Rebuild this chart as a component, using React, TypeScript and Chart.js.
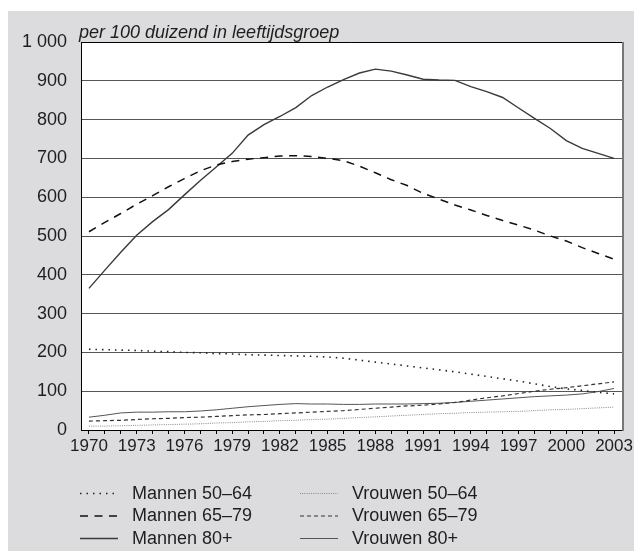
import React, { useEffect, useRef } from 'react';
import { Chart, registerables } from 'chart.js';

Chart.register(...registerables);

const years = [
  '1970', '1971', '1972', '1973', '1974', '1975', '1976', '1977', '1978', '1979',
  '1980', '1981', '1982', '1983', '1984', '1985', '1986', '1987', '1988', '1989',
  '1990', '1991', '1992', '1993', '1994', '1995', '1996', '1997', '1998', '1999',
  '2000', '2001', '2002', '2003',
];

const mannen5064 = [208, 207, 206, 205, 203, 202, 200, 199, 197, 196, 194, 193, 192, 191, 190, 188, 185, 180, 175, 170, 165, 160, 155, 150, 144, 138, 132, 126, 119, 112, 106, 102, 97, 93];
const mannen6579 = [511, 535, 558, 582, 604, 627, 648, 668, 683, 692, 698, 702, 706, 707, 705, 700, 694, 680, 663, 645, 630, 610, 595, 580, 567, 553, 540, 528, 515, 500, 487, 470, 455, 440];
const mannen80 = [365, 412, 458, 502, 537, 568, 606, 643, 678, 713, 760, 787, 808, 831, 862, 884, 903, 920, 930, 925, 915, 904, 902, 901, 885, 872, 857, 830, 803, 777, 746, 726, 713, 700];
const vrouwen5064 = [10, 10, 11, 12, 13, 14, 15, 16, 18, 19, 21, 22, 24, 25, 27, 28, 30, 32, 34, 36, 38, 40, 42, 43, 45, 46, 47, 48, 50, 52, 53, 55, 57, 59];
const vrouwen6579 = [23, 24, 25, 27, 29, 30, 32, 33, 35, 37, 39, 40, 42, 44, 46, 48, 50, 53, 56, 59, 62, 64, 67, 71, 77, 83, 88, 94, 100, 105, 109, 114, 119, 124];
const vrouwen80 = [33, 38, 44, 46, 46, 47, 47, 49, 52, 56, 60, 63, 66, 68, 67, 67, 66, 66, 67, 67, 67, 68, 69, 71, 74, 77, 80, 83, 86, 88, 90, 93, 99, 107];

const seriesNames = ['Mannen 50–64', 'Mannen 65–79', 'Mannen 80+', 'Vrouwen 50–64', 'Vrouwen 65–79', 'Vrouwen 80+'];
const yTicks = [0, 100, 200, 300, 400, 500, 600, 700, 800, 900, 1000];
const titleText = 'per 100 duizend in leeftijdsgroep';

const FONT = '"Liberation Sans", Arial, Helvetica, sans-serif';
const TEXT = '#1e1e1e';

const formatNum = (v: number) => String(v).replace(/\B(?=(\d{3})+(?!\d))/g, ' ');

const overlay = {
  id: 'overlay',
  beforeDraw(chart: any) {
    const { ctx, chartArea: a } = chart;
    ctx.save();
    ctx.fillStyle = '#ffffff';
    ctx.fillRect(a.left, a.top, a.right - a.left, a.bottom - a.top);
    ctx.restore();
  },
  afterDraw(chart: any) {
    const { ctx, chartArea: a } = chart;
    ctx.save();
    ctx.strokeStyle = '#000';
    ctx.lineWidth = 1;
    ctx.beginPath();
    ctx.moveTo(a.left, a.top + 0.5);
    ctx.lineTo(a.right, a.top + 0.5);
    ctx.stroke();
    ctx.fillStyle = '#777';
    ctx.fillRect(a.right, a.top, 2, a.bottom - a.top + 1);

    ctx.font = `italic 18px ${FONT}`;
    ctx.fillStyle = TEXT;
    ctx.textAlign = 'left';
    ctx.textBaseline = 'alphabetic';
    ctx.fillText(titleText, 71, 27);

    const cols = [{ x0: 72, x1: 110, tx: 124 }, { x0: 292, x1: 330, tx: 344 }];
    const rows = [482, 504.5, 527];
    ctx.font = `18px ${FONT}`;
    ctx.textBaseline = 'middle';
    chart.data.datasets.forEach((ds: any, i: number) => {
      const c = cols[Math.floor(i / 3)];
      const y = rows[i % 3];
      ctx.save();
      ctx.strokeStyle = ds.borderColor;
      ctx.lineWidth = ds.borderWidth;
      ctx.setLineDash(ds.borderDash || []);
      ctx.lineCap = 'butt';
      ctx.beginPath();
      ctx.moveTo(c.x0, y + 0.5);
      ctx.lineTo(c.x1, y + 0.5);
      ctx.stroke();
      ctx.restore();
      ctx.fillStyle = TEXT;
      ctx.fillText(ds.label, c.tx, y + 1);
    });
    ctx.restore();
  },
};

export default function App() {
  const ref = useRef<HTMLCanvasElement | null>(null);

  useEffect(() => {
    document.documentElement.style.overflow = 'hidden';
    document.body.style.overflow = 'hidden';
    const canvas = ref.current;
    if (!canvas) return;
    const styles = [
      { color: '#222', width: 1.6, dash: [1.5, 5] },
      { color: '#111', width: 1.5, dash: [8, 6.5] },
      { color: '#3a3a3a', width: 1.4, dash: [] as number[] },
      { color: '#888', width: 1, dash: [1, 1.2] },
      { color: '#333', width: 1.2, dash: [4, 3] },
      { color: '#555', width: 1, dash: [] as number[] },
    ];
    const values = [mannen5064, mannen6579, mannen80, vrouwen5064, vrouwen6579, vrouwen80];
    const chart = new Chart(canvas, {
      type: 'line',
      data: {
        labels: years,
        datasets: values.map((d, i) => ({
          label: seriesNames[i],
          data: d,
          borderColor: styles[i].color,
          borderWidth: styles[i].width,
          borderDash: styles[i].dash,
          pointRadius: 0,
          tension: 0,
          fill: false,
        })),
      },
      options: {
        animation: false,
        responsive: false,
        maintainAspectRatio: false,
        layout: { padding: { left: 0, top: 31, right: 12, bottom: 81 } },
        plugins: {
          legend: { display: false },
          tooltip: { enabled: false },
        },
        scales: {
          x: {
            type: 'category',
            offset: true,
            grid: { display: true, drawOnChartArea: false, drawTicks: true, tickLength: 4, color: '#000', offset: false },
            border: { display: true, color: '#000', width: 1 },
            ticks: {
              autoSkip: false,
              maxRotation: 0,
              minRotation: 0,
              padding: 2,
              color: TEXT,
              font: { family: FONT, size: 17 },
              callback: (_v: any, i: number) => (i % 3 === 0 ? years[i] : ''),
            },
            afterFit: (s: any) => {
              s.height = 40;
              s.paddingLeft = 0;
              s.paddingRight = 0;
            },
          },
          y: {
            min: 0,
            max: 1000,
            afterBuildTicks: (s: any) => {
              s.ticks = yTicks.map((v) => ({ value: v }));
            },
            ticks: {
              padding: 14,
              color: TEXT,
              font: { family: FONT, size: 18 },
              callback: (v: any) => formatNum(Number(v)),
            },
            grid: { color: '#555', lineWidth: 1, drawTicks: false },
            border: { display: true, color: '#000', width: 1 },
            afterFit: (s: any) => {
              s.width = 73;
              s.paddingTop = 0;
              s.paddingBottom = 0;
            },
          },
        },
      },
      plugins: [overlay],
    } as any);
    return () => chart.destroy();
  }, []);

  return (
    <div style={{ position: 'fixed', left: 8, top: 11, width: 626, height: 540, background: '#dcdcde' }}>
      <canvas ref={ref} width={626} height={540} style={{ display: 'block', width: 626, height: 540 }} />
    </div>
  );
}
